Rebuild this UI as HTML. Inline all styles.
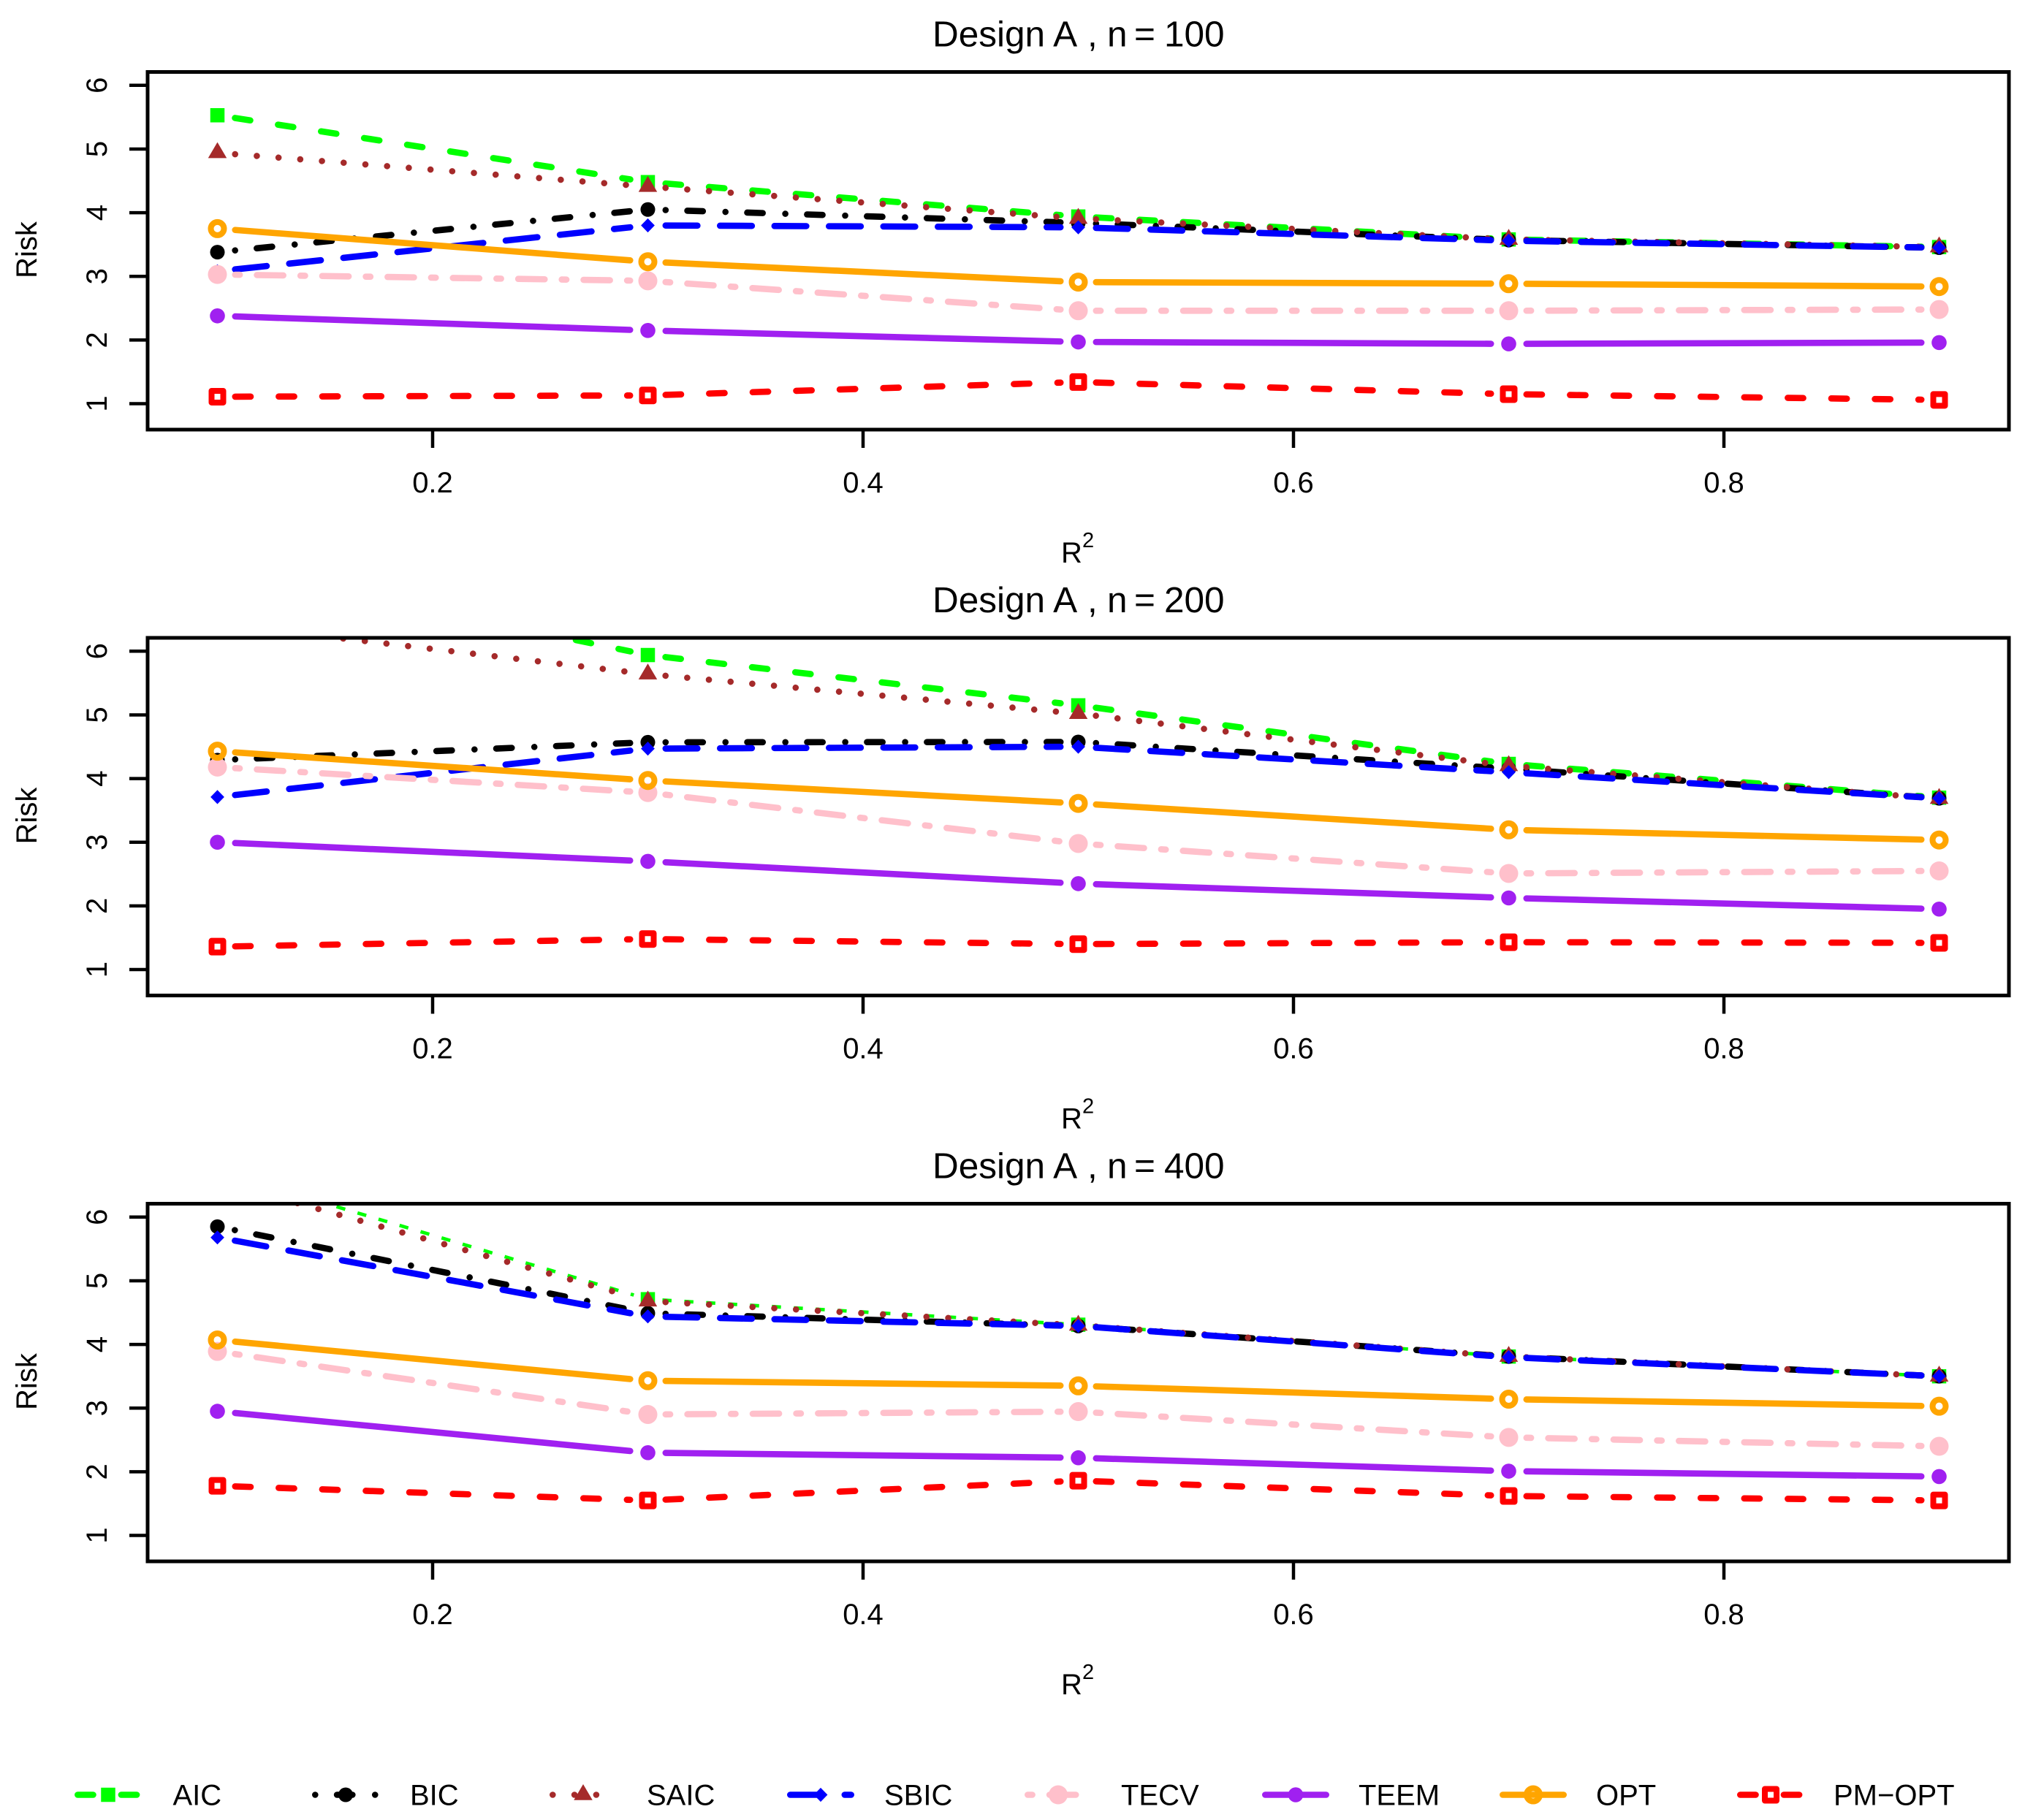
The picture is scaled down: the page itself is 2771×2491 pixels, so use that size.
<!DOCTYPE html>
<html lang="en">
<head>
<meta charset="utf-8">
<title>Design A risk curves</title>
<style>
html,body{margin:0;padding:0;background:#fff;}
svg{display:block;}
text{font-family:"Liberation Sans",Arial,sans-serif;fill:#000;}
.t{font-size:49.5px;}
.l{font-size:40px;}
.s{font-size:29px;}
</style>
</head>
<body>
<svg id="chart" xmlns="http://www.w3.org/2000/svg" width="2771" height="2491" viewBox="0 0 2771 2491">
<rect x="0" y="0" width="2771" height="2491" fill="#fff"/>

<text class="t" y="63.3"><tspan x="1276">Design A</tspan><tspan x="1488">,</tspan><tspan x="1515">n</tspan><tspan x="1552">=</tspan><tspan x="1593">100</tspan></text>
<text class="t" y="837.8"><tspan x="1276">Design A</tspan><tspan x="1488">,</tspan><tspan x="1515">n</tspan><tspan x="1552">=</tspan><tspan x="1593">200</tspan></text>
<text class="t" y="1612.3"><tspan x="1276">Design A</tspan><tspan x="1488">,</tspan><tspan x="1515">n</tspan><tspan x="1552">=</tspan><tspan x="1593">400</tspan></text>

<text class="l" transform="translate(50,342) rotate(-90)" text-anchor="middle">Risk</text>
<text class="l" transform="translate(50,1116.5) rotate(-90)" text-anchor="middle">Risk</text>
<text class="l" transform="translate(50,1891) rotate(-90)" text-anchor="middle">Risk</text>

<g><text class="l" x="1452" y="770">R</text><text class="s" x="1481" y="749">2</text></g>
<g><text class="l" x="1452" y="1544.5">R</text><text class="s" x="1481" y="1523.5">2</text></g>
<g><text class="l" x="1452" y="2319">R</text><text class="s" x="1481" y="2298">2</text></g>

<g id="marks"></g>

<g>
<text class="l" x="236.5" y="2470.5">AIC</text>
<text class="l" x="561" y="2470.5">BIC</text>
<text class="l" x="885" y="2470.5">SAIC</text>
<text class="l" x="1210" y="2470.5">SBIC</text>
<text class="l" x="1534" y="2470.5">TECV</text>
<text class="l" x="1859" y="2470.5">TEEM</text>
<text class="l" x="2184" y="2470.5">OPT</text>
<text class="l" x="2509" y="2470.5">PM−OPT</text>
</g>
</svg>

<script>
// Shared categories and tick labels
const r2Values = [0.1, 0.3, 0.5, 0.7, 0.9];
const xTickValues = [0.2, 0.4, 0.6, 0.8];
const xTickLabels = ["0.2", "0.4", "0.6", "0.8"];
const yTickValues = [1, 2, 3, 4, 5, 6];
const methodNames = ["AIC", "BIC", "SAIC", "SBIC", "TECV", "TEEM", "OPT", "PM-OPT"];

// Design A, n = 100
const aicN100 = [5.53, 4.48, 3.94, 3.58, 3.46];
const bicN100 = [3.38, 4.05, 3.84, 3.57, 3.45];
const saicN100 = [4.94, 4.41, 3.91, 3.58, 3.46];
const sbicN100 = [3.08, 3.80, 3.77, 3.56, 3.45];
const tecvN100 = [3.03, 2.93, 2.46, 2.46, 2.48];
const teemN100 = [2.38, 2.15, 1.97, 1.94, 1.96];
const optN100 = [3.75, 3.23, 2.91, 2.885, 2.84];
const pmOptN100 = [1.11, 1.13, 1.34, 1.15, 1.06];

// Design A, n = 200
const aicN200 = [7.35, 5.94, 5.15, 4.23, 3.70];
const bicN200 = [4.29, 4.57, 4.575, 4.155, 3.69];
const saicN200 = [6.43, 5.64, 5.02, 4.20, 3.685];
const sbicN200 = [3.71, 4.47, 4.50, 4.10, 3.69];
const tecvN200 = [4.18, 3.78, 2.98, 2.51, 2.55];
const teemN200 = [3.00, 2.70, 2.35, 2.125, 1.95];
const optN200 = [4.43, 3.97, 3.61, 3.195, 3.035];
const pmOptN200 = [1.36, 1.48, 1.40, 1.43, 1.42];

// Design A, n = 400
const aicN400 = [6.72, 4.71, 4.31, 3.81, 3.50];
const bicN400 = [5.85, 4.49, 4.29, 3.81, 3.50];
const saicN400 = [6.57, 4.68, 4.30, 3.81, 3.50];
const sbicN400 = [5.68, 4.44, 4.29, 3.80, 3.50];
const tecvN400 = [3.89, 2.90, 2.945, 2.54, 2.40];
const teemN400 = [2.95, 2.30, 2.22, 2.01, 1.925];
const optN400 = [4.07, 3.43, 3.35, 3.14, 3.03];
const pmOptN400 = [1.78, 1.55, 1.86, 1.62, 1.55];

const seriesN100 = [aicN100, bicN100, saicN100, sbicN100, tecvN100, teemN100, optN100, pmOptN100];
const seriesN200 = [aicN200, bicN200, saicN200, sbicN200, tecvN200, teemN200, optN200, pmOptN200];
const seriesN400 = [aicN400, bicN400, saicN400, sbicN400, tecvN400, teemN400, optN400, pmOptN400];
const sampleSizes = [100, 200, 400];
const allSeries = [seriesN100, seriesN200, seriesN400];

const NS = "http://www.w3.org/2000/svg";
const marksRoot = document.getElementById("marks");
const svgRoot = document.getElementById("chart");

const LEFT = 202, RIGHT = 2749, TOP0 = 98.5, PANEL_H = 489.5;
const panelShift = [0, 774.5, 1549];
const Y6_0 = 116.8, Y_UNIT = 87.15;
const U = 7.45, LW = 8.6, GAP = 20;

function xScale(v) { return 592 + (v - 0.2) * 2945; }
function yScale(v, panel) { return Y6_0 + panelShift[panel] + (6 - v) * Y_UNIT; }

const colors = ["#00ff00", "#000000", "#a52a2a", "#0000ff", "#ffc0cb", "#a020f0", "#ffa500", "#ff0000"];
const ltyUnits = [[4, 4], [1, 3, 4, 3], [1, 3], [7, 3], [2, 2, 6, 2], null, null, [4, 4]];

function dashFor(units) {
  if (!units) return null;
  const out = [];
  for (let i = 0; i < units.length; i += 2) {
    const on = Math.max(0.01, units[i] * U - LW);
    const off = (units[i] + units[i + 1]) * U - on;
    out.push(on.toFixed(2), off.toFixed(2));
  }
  return out.join(" ");
}

function make(tag, parent, attrs) {
  const el = document.createElementNS(NS, tag);
  for (const k in attrs) el.setAttribute(k, attrs[k]);
  parent.appendChild(el);
  return el;
}

function slug(name) { return name.toLowerCase(); }

function drawLineSegment(parent, x1, y1, x2, y2, idx, thin, label) {
  const len = Math.hypot(x2 - x1, y2 - y1);
  const cap = thin ? 0 : LW / 2;
  const d = GAP + cap;
  if (len <= 2 * d) return;
  const ux = (x2 - x1) / len, uy = (y2 - y1) / len;
  const seg = make("line", parent, {
    x1: x1 + ux * d, y1: y1 + uy * d, x2: x2 - ux * d, y2: y2 - uy * d,
    stroke: colors[idx],
    "stroke-width": thin ? 4.7 : LW,
    "stroke-linecap": thin ? "butt" : "round"
  });
  
  
  const dash = thin ? "12.5 17.5" : dashFor(ltyUnits[idx]);
  if (dash) seg.setAttribute("stroke-dasharray", dash);
}

function drawMarker(parent, cx, cy, idx, label) {
  const c = colors[idx];
  let m;
  if (idx === 0) {
    m = make("rect", parent, { x: cx - 9.75, y: cy - 9.75, width: 19.5, height: 19.5, fill: c });
  } else if (idx === 1) {
    m = make("circle", parent, { cx: cx, cy: cy, r: 10, fill: c });
  } else if (idx === 2) {
    const p = [[cx, cy - 14.5], [cx + 12.75, cy + 7.25], [cx - 12.75, cy + 7.25]];
    m = make("polygon", parent, { points: p.map(q => q.join(",")).join(" "), fill: c });
  } else if (idx === 3) {
    const p = [[cx, cy - 9.6], [cx + 9.4, cy], [cx, cy + 9.6], [cx - 9.4, cy]];
    m = make("polygon", parent, { points: p.map(q => q.join(",")).join(" "), fill: c });
  } else if (idx === 4) {
    m = make("circle", parent, { cx: cx, cy: cy, r: 13, fill: c });
  } else if (idx === 5) {
    m = make("circle", parent, { cx: cx, cy: cy, r: 10.3, fill: c });
  } else if (idx === 6) {
    m = make("circle", parent, { cx: cx, cy: cy, r: 9, fill: "none", stroke: c, "stroke-width": 8 });
  } else {
    m = make("rect", parent, { x: cx - 8, y: cy - 8, width: 16, height: 16, fill: "none", stroke: c, "stroke-width": 8, "stroke-linejoin": "round" });
  }
  
  
}

sampleSizes.forEach(function (n, p) {
  const top = TOP0 + panelShift[p];
  const bottom = top + PANEL_H;

  const clip = make("clipPath", marksRoot, { id: "clip-" + n });
  make("rect", clip, { x: LEFT, y: top, width: RIGHT - LEFT, height: PANEL_H });

  const plot = make("g", marksRoot, { "clip-path": "url(#clip-" + n + ")" });
  
  

  allSeries[p].forEach(function (values, idx) {
    const group = make("g", plot, {});
    
    
    const thin = (n === 400 && idx === 0);
    for (let i = 0; i + 1 < values.length; i++) {
      drawLineSegment(group, xScale(r2Values[i]), yScale(values[i], p), xScale(r2Values[i + 1]), yScale(values[i + 1], p), idx, thin, "line-segment-" + slug(methodNames[idx]));
    }
    values.forEach(function (v, i) {
      drawMarker(group, xScale(r2Values[i]), yScale(v, p), idx, "point-" + slug(methodNames[idx]));
    });
  });

  const frame = make("rect", marksRoot, { x: LEFT, y: top, width: RIGHT - LEFT, height: PANEL_H, fill: "none", stroke: "#000", "stroke-width": 5 });
  
  

  xTickValues.forEach(function (v, i) {
    const tick = make("line", marksRoot, { x1: xScale(v), x2: xScale(v), y1: bottom, y2: bottom + 25, stroke: "#000", "stroke-width": 4.5 });
    
    
    const label = make("text", marksRoot, { x: xScale(v), y: bottom + 86, "text-anchor": "middle", "class": "l" });
    
    
    label.textContent = xTickLabels[i];
  });

  yTickValues.forEach(function (v) {
    const y = yScale(v, p);
    const tick = make("line", marksRoot, { x1: LEFT - 25, x2: LEFT, y1: y, y2: y, stroke: "#000", "stroke-width": 4.5 });
    
    
    const label = make("text", marksRoot, { transform: "translate(146," + y + ") rotate(-90)", "text-anchor": "middle", "class": "l" });
    
    
    label.textContent = String(v);
  });
});

// Legend keys
const LEGEND_Y = 2456.5;
methodNames.forEach(function (name, idx) {
  const m = 148 + 325 * idx;
  const entry = make("g", svgRoot, {});
  
  
  const key = make("line", entry, {
    x1: m - 46 + LW / 2, x2: m + 46 - LW / 2, y1: LEGEND_Y, y2: LEGEND_Y,
    stroke: colors[idx], "stroke-width": LW, "stroke-linecap": "round"
  });
  
  
  const dash = dashFor(ltyUnits[idx]);
  if (dash) key.setAttribute("stroke-dasharray", dash);
  drawMarker(entry, m, LEGEND_Y, idx, "legend-marker-" + slug(name));
});
</script>
</body>
</html>
